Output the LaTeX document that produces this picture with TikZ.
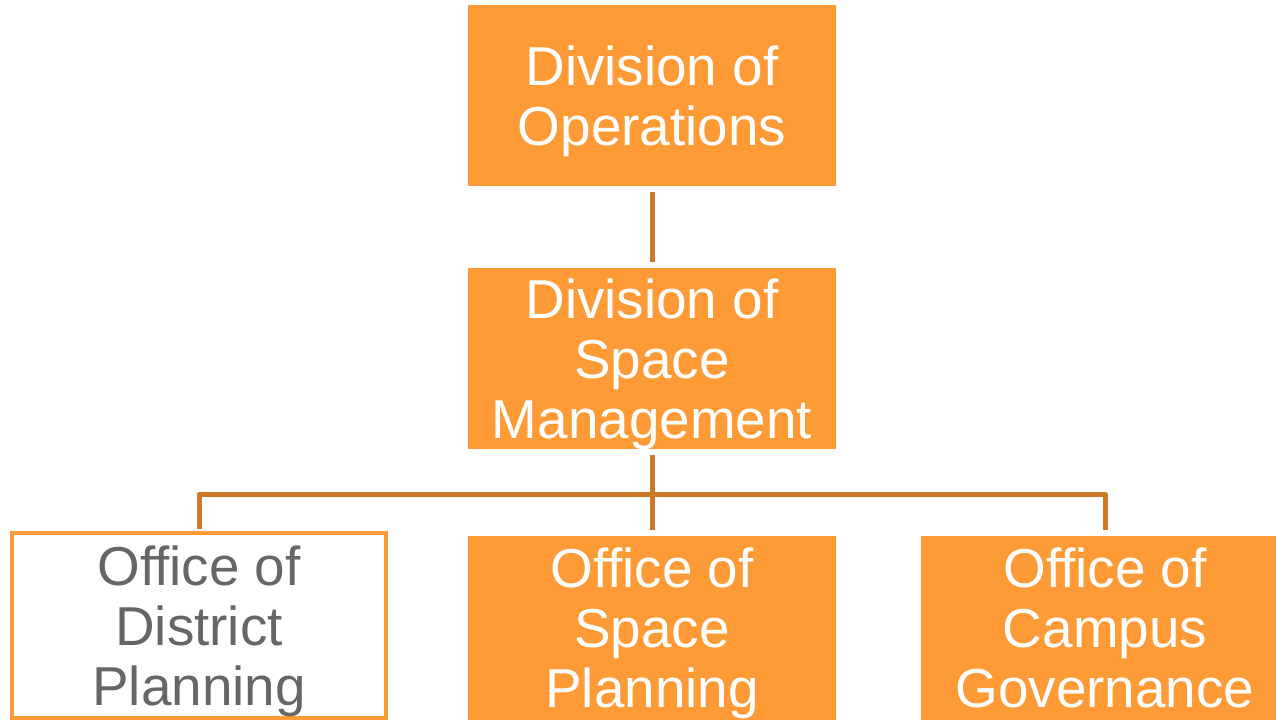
\documentclass[tikz,border=0pt]{standalone}
\usepackage{fontspec}
\setmainfont{Liberation Sans}
\definecolor{boxorange}{RGB}{255,155,55}
\definecolor{linkbrown}{RGB}{204,122,41}
\definecolor{textgray}{RGB}{102,102,102}
\tikzset{
  unit/.style={fill=boxorange, text=white, minimum width=9.2cm, minimum height=4.525cm, inner sep=0pt, text depth=0pt, align=center, font=\fontsize{39}{42.7}\selectfont},
  office/.style={unit, minimum height=4.6cm},
  openunit/.style={office, fill=white, draw=boxorange, line width=0.1cm, text=textgray, minimum width=9.35cm, minimum height=4.625cm},
  link/.style={draw=linkbrown, line width=0.125cm, line join=round}
}
\begin{document}
\begin{tikzpicture}
\useasboundingbox (0,0) rectangle (31.9,-18);
\node [unit] (ops) at (16.3,-2.3875) {Division of\\Operations};
\node [unit] (spm) at (16.3,-8.9625) {Division of\\Space\\Management};
\node [openunit] (dp) at (4.975,-15.6375) {Office of\\District\\Planning};
\node [office] (sp) at (16.3,-15.7) {Office of\\Space\\Planning};
\node [office] (cg) at (27.625,-15.7) {Office of\\Campus\\Governance};
\coordinate (bus) at (16.3,-12.3625);
\draw [link, shorten <=0.15cm, shorten >=0.15cm] (ops) -- (spm);
\draw [link, shorten <=0.15cm, shorten >=0.15cm] (spm) -- (sp);
\draw [link, shorten <=0.05cm, shorten >=0.15cm] (dp.north) -- (dp.north |- bus) -- (cg.north |- bus) -- (cg.north);
\end{tikzpicture}
\end{document}
